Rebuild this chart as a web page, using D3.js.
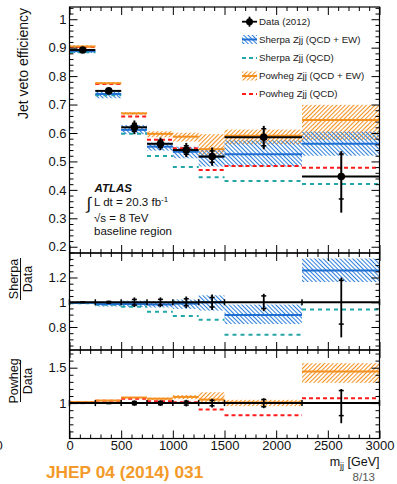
<!DOCTYPE html>
<html><head><meta charset="utf-8">
<script src="https://cdn.jsdelivr.net/npm/d3@7"></script>
<style>
body{margin:0;background:#fff}
svg{display:block}
text{font-family:"Liberation Sans",Arial,Helvetica,sans-serif}
</style>
</head><body>
<svg id="c" width="397" height="484"></svg>
<script>
// ---------------- data ----------------
const binEdges = [0, 250, 500, 750, 1000, 1250, 1500, 2250, 3000];
const dataX = [128, 380, 628, 880, 1130, 1380, 1880, 2630];
const dataY = [0.892, 0.748, 0.620, 0.562, 0.540, 0.517, 0.585, 0.447];
const dataErrUp = [0.006, 0.009, 0.024, 0.022, 0.025, 0.032, 0.040, 0.089];
const dataErrDown = [0.006, 0.009, 0.024, 0.022, 0.025, 0.032, 0.042, 0.127];
const dataStat = [0.003, 0.005, 0.014, 0.013, 0.015, 0.020, 0.030, 0.079];
const sherpaY = [0.888, 0.737, 0.611, 0.552, 0.534, 0.517, 0.525, 0.562];
const sherpaHi = [0.895, 0.751, 0.628, 0.566, 0.552, 0.546, 0.574, 0.605];
const sherpaLo = [0.881, 0.722, 0.596, 0.538, 0.511, 0.482, 0.482, 0.520];
const sherpaQcdY = [0.884, 0.733, 0.597, 0.519, 0.480, 0.444, 0.431, 0.421];
const powhegY = [0.904, 0.775, 0.669, 0.597, 0.587, 0.543, 0.590, 0.646];
const powhegHi = [0.909, 0.779, 0.673, 0.606, 0.601, 0.596, 0.612, 0.699];
const powhegLo = [0.899, 0.771, 0.664, 0.585, 0.570, 0.519, 0.560, 0.575];
const powhegQcdY = [0.902, 0.772, 0.658, 0.576, 0.546, 0.470, 0.484, 0.478];
const xTicks = [0, 500, 1000, 1500, 2000, 2500, 3000];
const topTicks = [0.2, 0.3, 0.4, 0.5, 0.6, 0.7, 0.8, 0.9, 1.0];
const midTicks = [0.8, 1.0, 1.2];
const botTicks = [1.0, 1.5];
const legendLabels = ["Data (2012)", "Sherpa Zjj (QCD + EW)", "Sherpa Zjj (QCD)", "Powheg Zjj (QCD + EW)", "Powheg Zjj (QCD)"];

// ---------------- style ----------------
const C = {blue:"#2f80dc", blueLine:"#1f6fd2", teal:"#22a6a6", orange:"#f39020", red:"#ff1a1a"};
const svg = d3.select("#c");
const L = 69.5, R = 379.5;
const x = d3.scaleLinear().domain([0, 3000]).range([L, R]);
const yTop = d3.scaleLinear().domain([0.178, 1.043]).range([253, 7]);
const yMid = d3.scaleLinear().domain([0.614, 1.398]).range([350, 253]);
const yBot = d3.scaleLinear().domain([0.5, 1.75]).range([438.5, 350]);

const defs = svg.append("defs");
function hatch(id, color, angle){
  const p = defs.append("pattern").attr("id", id).attr("patternUnits","userSpaceOnUse")
    .attr("width", 3).attr("height", 3).attr("patternTransform", `rotate(${angle})`);
  p.append("line").attr("x1",0.5).attr("y1",-1).attr("x2",0.5).attr("y2",4)
    .attr("stroke", color).attr("stroke-width", 1.1);
}
hatch("hBlue", C.blue, -45);
hatch("hOrange", C.orange, 45);

const bins = d3.range(dataY.length).map(i => ({i, lo: binEdges[i], hi: binEdges[i+1]}));

function bands(g, y, lo, hi, fill){
  g.selectAll(null).data(bins).join("rect")
    .attr("x", d => x(d.lo)).attr("width", d => x(d.hi) - x(d.lo))
    .attr("y", d => y(hi[d.i])).attr("height", d => y(lo[d.i]) - y(hi[d.i]))
    .attr("fill", `url(#${fill})`);
}
function steps(g, y, vals, color, width, dash){
  g.selectAll(null).data(bins).join("line")
    .attr("x1", d => x(d.lo)).attr("x2", d => x(d.hi))
    .attr("y1", d => y(vals[d.i])).attr("y2", d => y(vals[d.i]))
    .attr("stroke", color).attr("stroke-width", width)
    .attr("stroke-dasharray", dash || null);
}

function frameAxes(y, top, bottom, major, minor, labelFmt, showX){
  const g = svg.append("g");
  const ax = (axis, tx, ty, vals, size, fmt, pad) => {
    const a = axis.tickValues(vals).tickSize(size).tickPadding(pad || 3).tickFormat(fmt || "");
    const gg = g.append("g").attr("transform", `translate(${tx},${ty})`).call(a);
    gg.select(".domain").remove();
    gg.selectAll("line").attr("stroke","#000").attr("stroke-width",1);
    gg.selectAll("text").attr("font-size", 13).attr("fill","#111")
      .style("font-family",'"Liberation Sans",Arial,Helvetica,sans-serif');
    return gg;
  };
  ax(d3.axisLeft(y), L, 0, major, -8, labelFmt);
  ax(d3.axisLeft(y), L, 0, minor, -4);
  ax(d3.axisRight(y), R, 0, major, -8);
  ax(d3.axisRight(y), R, 0, minor, -4);
  const xMinor = d3.range(0, 3001, 100).filter(v => v % 500 !== 0);
  ax(d3.axisTop(x), 0, top, xTicks, -8);
  ax(d3.axisTop(x), 0, top, xMinor, -4);
  ax(d3.axisBottom(x), 0, bottom, xTicks, -8, showX ? (d => d3.format("d")(d)) : "", 2);
  ax(d3.axisBottom(x), 0, bottom, xMinor, -4);
  g.append("rect").attr("x", L).attr("y", top).attr("width", R - L).attr("height", bottom - top)
    .attr("fill","none").attr("stroke","#000").attr("stroke-width",1.2);
}

function minorRange(a, b, s){ return d3.range(Math.ceil(a/s), Math.floor(b/s)+1).map(k => +(k*s).toFixed(3)); }
const fmt1 = v => (v === 1 ? "1" : d3.format(".1f")(v));

// ---------------- top panel ----------------
const gt = svg.append("g");
bands(gt, yTop, powhegLo, powhegHi, "hOrange");
bands(gt, yTop, sherpaLo, sherpaHi, "hBlue");
steps(gt, yTop, powhegQcdY, C.red, 2, "4,3");
steps(gt, yTop, sherpaQcdY, C.teal, 2, "4,4");
steps(gt, yTop, powhegY, C.orange, 2);
steps(gt, yTop, sherpaY, C.blueLine, 2);
// data
steps(gt, yTop, dataY, "#000", 2);
gt.selectAll(null).data(bins).join("line")
  .attr("x1", d => x(dataX[d.i])).attr("x2", d => x(dataX[d.i]))
  .attr("y1", d => yTop(dataY[d.i] + dataErrUp[d.i])).attr("y2", d => yTop(dataY[d.i] - dataErrDown[d.i]))
  .attr("stroke","#000").attr("stroke-width",2);
[1,-1].forEach(sg => {
  gt.selectAll(null).data(bins).join("line")
    .attr("x1", d => x(dataX[d.i]) - 2.5).attr("x2", d => x(dataX[d.i]) + 2.5)
    .attr("y1", d => yTop(dataY[d.i] + sg*dataStat[d.i])).attr("y2", d => yTop(dataY[d.i] + sg*dataStat[d.i]))
    .attr("stroke","#000").attr("stroke-width",1.5);
});
gt.selectAll(null).data(bins).join("circle")
  .attr("cx", d => x(dataX[d.i])).attr("cy", d => yTop(dataY[d.i])).attr("r", 3.8).attr("fill","#000");
frameAxes(yTop, 7, 253, topTicks, minorRange(0.18, 1.04, 0.02).filter(v => Math.abs(v*10 - Math.round(v*10)) > 1e-6), fmt1, false);

// ---------------- ratio panels ----------------
function ratioPanel(y, vals, hi, lo, qcd, bandId, lineColor, qcdColor, qcdDash){
  const g = svg.append("g");
  const r = arr => arr.map((v, i) => v / dataY[i]);
  bands(g, y, r(lo), r(hi), bandId);
  steps(g, y, r(qcd), qcdColor, 2, qcdDash);
  steps(g, y, r(vals), lineColor, 2);
  // data at unity
  g.append("line").attr("x1", x(0)).attr("x2", x(3000)).attr("y1", y(1)).attr("y2", y(1))
    .attr("stroke","#000").attr("stroke-width",2);
  g.selectAll(null).data(binEdges).join("line")
    .attr("x1", d => x(d)).attr("x2", d => x(d)).attr("y1", y(1) - 3).attr("y2", y(1) + 3)
    .attr("stroke","#000").attr("stroke-width",1.5);
  g.selectAll(null).data(bins).join("line")
    .attr("x1", d => x(dataX[d.i])).attr("x2", d => x(dataX[d.i]))
    .attr("y1", d => y(1 + dataErrUp[d.i]/dataY[d.i])).attr("y2", d => y(1 - dataErrDown[d.i]/dataY[d.i]))
    .attr("stroke","#000").attr("stroke-width",1.8);
  [1,-1].forEach(sg => {
    g.selectAll(null).data(bins).join("line")
      .attr("x1", d => x(dataX[d.i]) - 2.5).attr("x2", d => x(dataX[d.i]) + 2.5)
      .attr("y1", d => y(1 + sg*dataStat[d.i]/dataY[d.i])).attr("y2", d => y(1 + sg*dataStat[d.i]/dataY[d.i]))
      .attr("stroke","#000").attr("stroke-width",1.5);
  });
}
ratioPanel(yMid, sherpaY, sherpaHi, sherpaLo, sherpaQcdY, "hBlue", C.blueLine, C.teal, "4,4");
frameAxes(yMid, 253, 350, midTicks, minorRange(0.65, 1.39, 0.05).filter(v => !midTicks.some(t => Math.abs(t - v) < 1e-6)), fmt1, false);
ratioPanel(yBot, powhegY, powhegHi, powhegLo, powhegQcdY, "hOrange", C.orange, C.red, "4,3");
frameAxes(yBot, 350, 438.5, botTicks, minorRange(0.6, 1.7, 0.1).filter(v => !botTicks.some(t => Math.abs(t - v) < 1e-6)), fmt1, true);

// ---------------- titles ----------------
svg.append("text").attr("transform","translate(28,8) rotate(-90)").attr("text-anchor","end")
  .attr("font-size",14).attr("fill","#111").text("Jet veto efficiency");
function fracLabel(cy, num){
  svg.append("text").attr("transform",`translate(17.5,${cy}) rotate(-90)`).attr("text-anchor","middle")
    .attr("font-size",12.5).attr("fill","#111").text(num);
  svg.append("line").attr("x1",20.5).attr("x2",20.5).attr("y1",cy - 21).attr("y2",cy + 21)
    .attr("stroke","#111").attr("stroke-width",1);
  svg.append("text").attr("transform",`translate(32,${cy}) rotate(-90)`).attr("text-anchor","middle")
    .attr("font-size",12.5).attr("fill","#111").text("Data");
}
fracLabel(279, "Sherpa");
fracLabel(381, "Powheg");

const mt = svg.append("text").attr("x", R).attr("y", 465.5).attr("text-anchor","end").attr("font-size",12.5).attr("fill","#111");
mt.append("tspan").text("m");
mt.append("tspan").attr("font-size",9).attr("dy",3).text("jj");
mt.append("tspan").attr("dy",-3).text(" [GeV]");

svg.append("text").attr("x",-4.5).attr("y",450).attr("font-size",13).attr("fill","#111").text("0");
svg.append("text").attr("x",46).attr("y",478).attr("font-size",17.3).attr("font-weight","bold")
  .attr("fill","#f39a2a").text("JHEP 04 (2014) 031");
svg.append("text").attr("x",375).attr("y",481).attr("text-anchor","end").attr("font-size",11.5)
  .attr("fill","#555").text("8/13");

// ATLAS block
svg.append("text").attr("x",94.5).attr("y",192).attr("font-size",11.5).attr("font-weight","bold")
  .attr("font-style","italic").attr("fill","#111").text("ATLAS");
svg.append("text").attr("x",86.5).attr("y",209).attr("font-size",17).attr("fill","#111").text("∫");
const lum = svg.append("text").attr("x",94).attr("y",206).attr("font-size",11.5).attr("fill","#111");
lum.append("tspan").text("L dt = 20.3 fb");
lum.append("tspan").attr("font-size",8).attr("dy",-4.5).text("-1");
svg.append("text").attr("x",94).attr("y",222).attr("font-size",11.5).attr("fill","#111").text("√s = 8 TeV");
svg.append("text").attr("x",94).attr("y",235).attr("font-size",11.5).attr("fill","#111").text("baseline region");

// legend
const lg = svg.append("g");
const ly = [21.7, 39.5, 58, 76, 94];
const lx0 = 242, lx1 = 257;
lg.selectAll(null).data(legendLabels).join("text")
  .attr("x", 259).attr("y", (d, i) => ly[i]).attr("dy","0.36em")
  .attr("font-size", 9.7).attr("fill","#222").text(d => d);
// data symbol
lg.append("line").attr("x1",lx0).attr("x2",lx1).attr("y1",ly[0]).attr("y2",ly[0]).attr("stroke","#000").attr("stroke-width",1.8);
lg.append("line").attr("x1",(lx0+lx1)/2).attr("x2",(lx0+lx1)/2).attr("y1",ly[0]-5).attr("y2",ly[0]+5).attr("stroke","#000").attr("stroke-width",1.8);
lg.append("circle").attr("cx",(lx0+lx1)/2).attr("cy",ly[0]).attr("r",3.5).attr("fill","#000");
// band symbols
[[1,"hBlue",C.blueLine],[3,"hOrange",C.orange]].forEach(([k,id,col]) => {
  lg.append("rect").attr("x",lx0).attr("y",ly[k]-4.5).attr("width",lx1-lx0).attr("height",9).attr("fill",`url(#${id})`);
  lg.append("line").attr("x1",lx0).attr("x2",lx1).attr("y1",ly[k]).attr("y2",ly[k]).attr("stroke",col).attr("stroke-width",2);
});
lg.append("line").attr("x1",lx0).attr("x2",lx1).attr("y1",ly[2]).attr("y2",ly[2]).attr("stroke",C.teal).attr("stroke-width",2).attr("stroke-dasharray","4,3");
lg.append("line").attr("x1",lx0).attr("x2",lx1).attr("y1",ly[4]).attr("y2",ly[4]).attr("stroke",C.red).attr("stroke-width",2).attr("stroke-dasharray","4,3");
</script>
</body></html>
